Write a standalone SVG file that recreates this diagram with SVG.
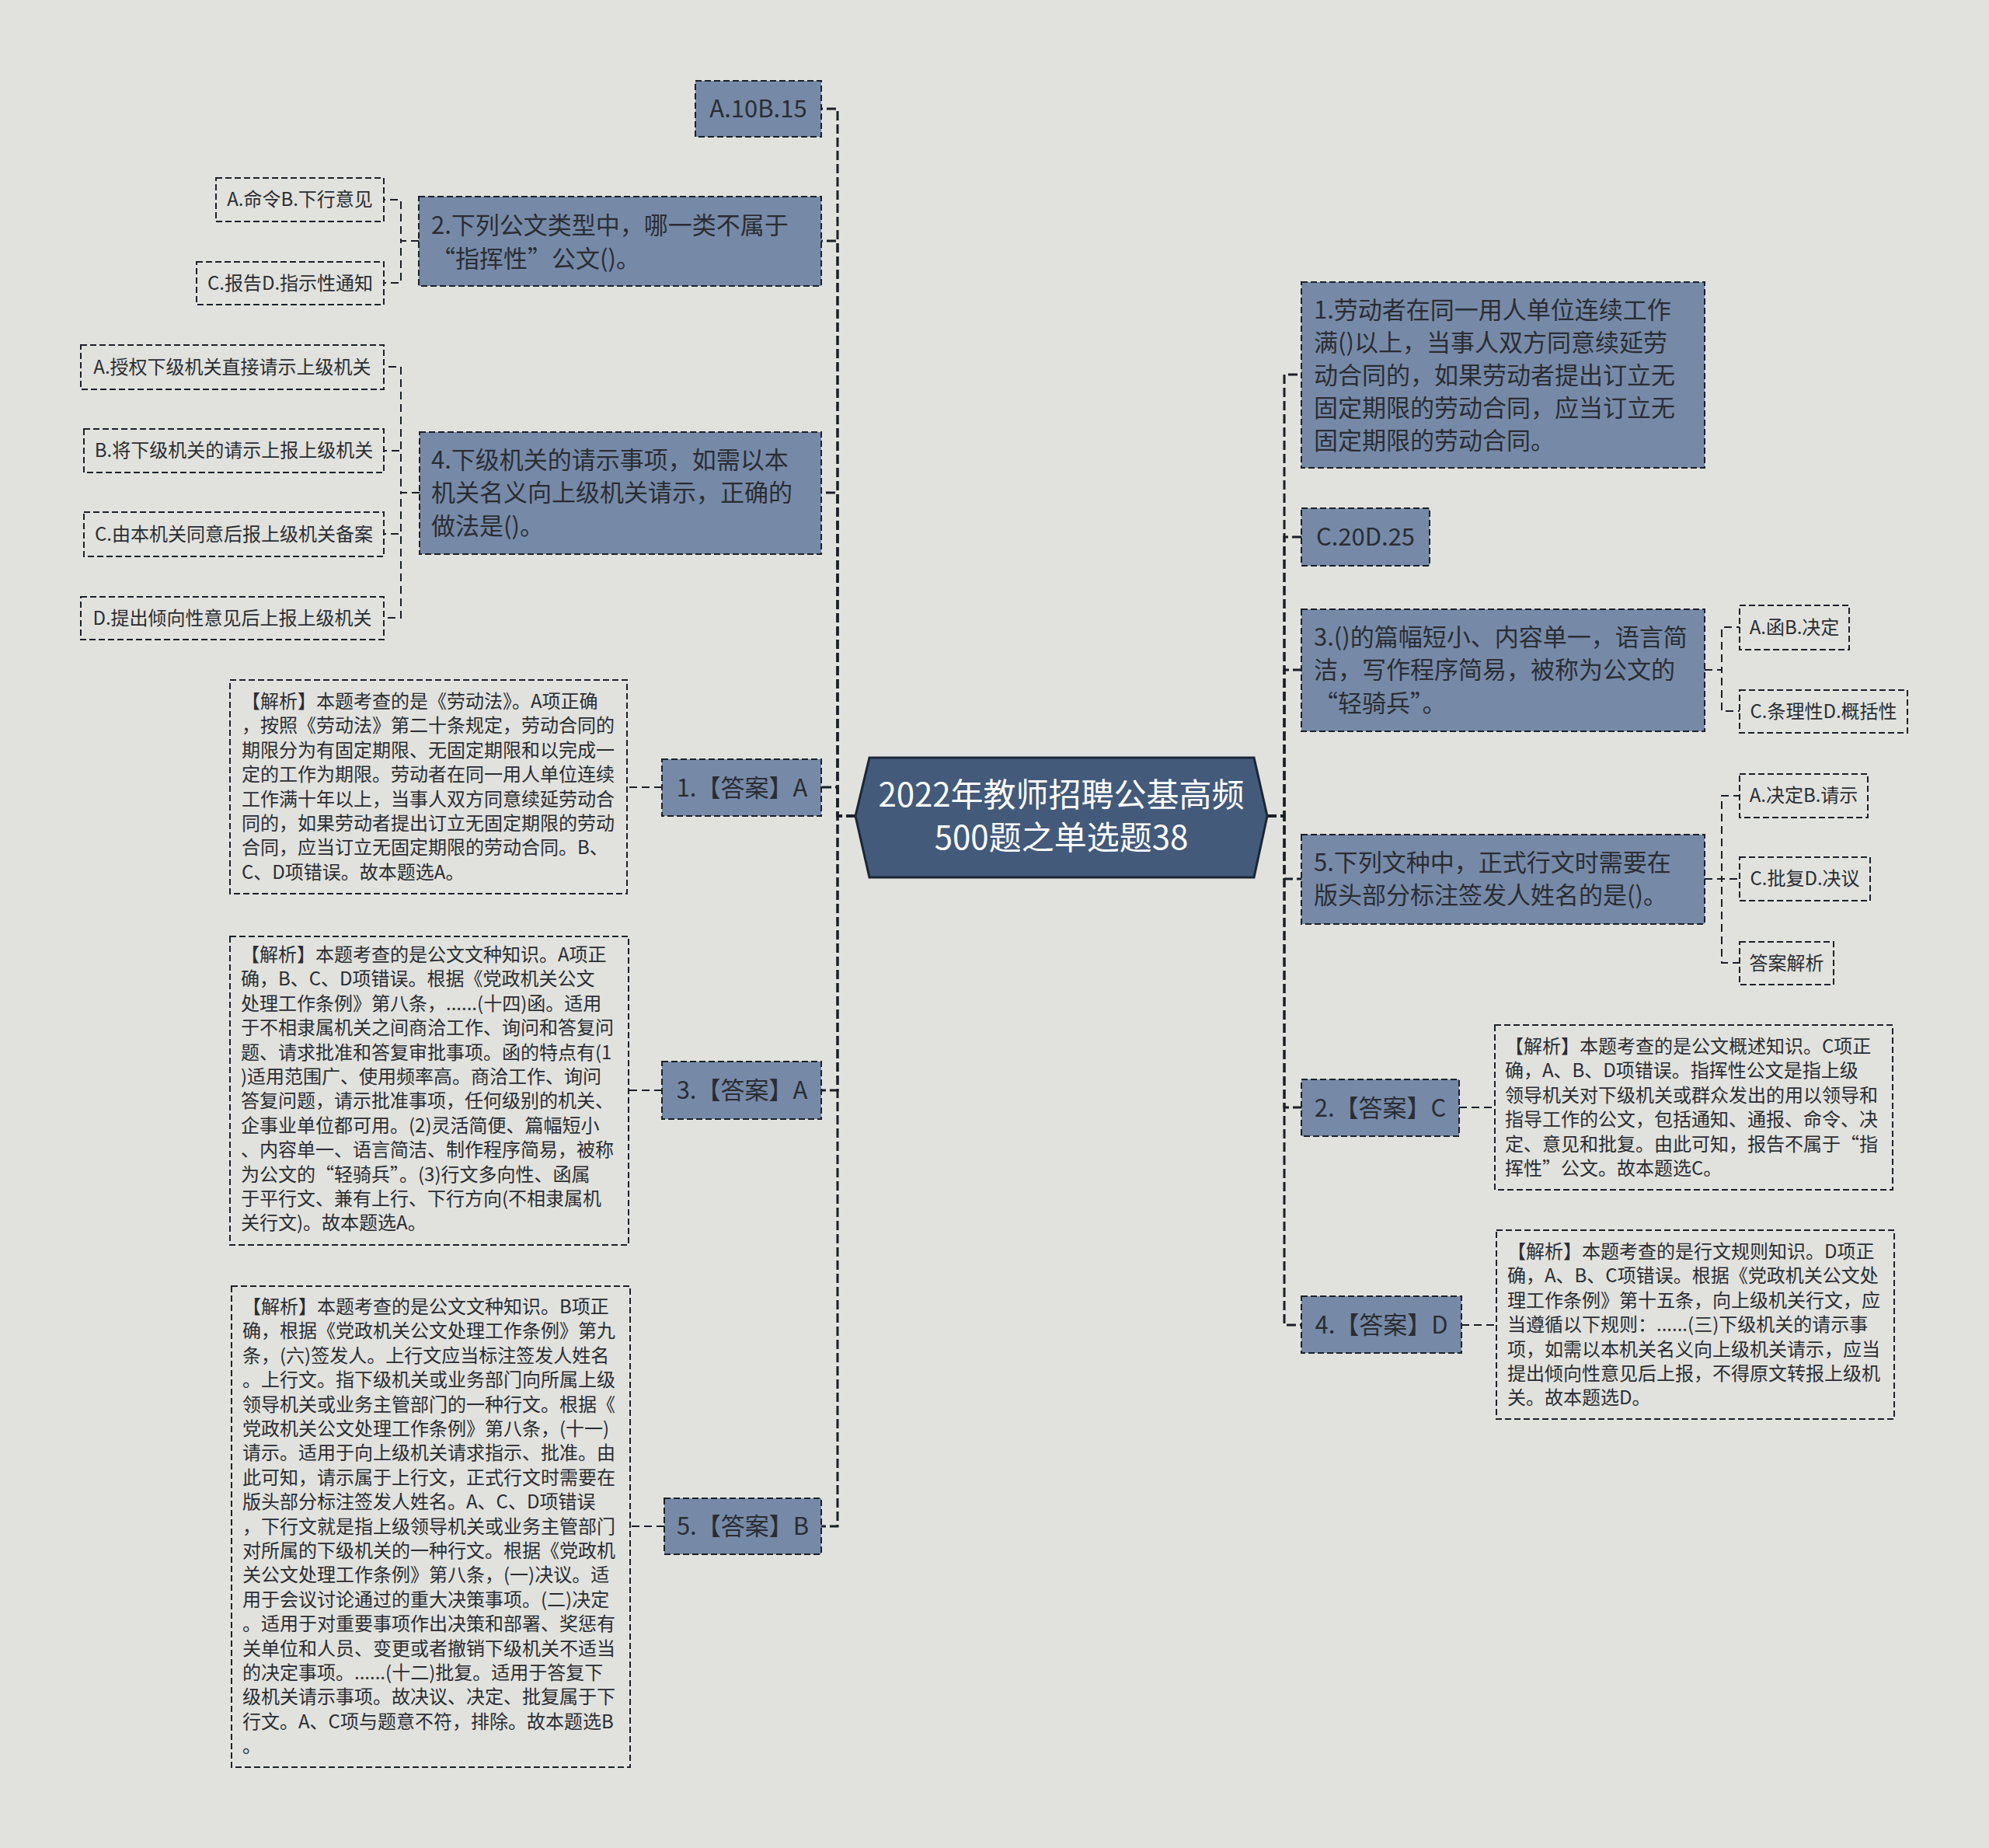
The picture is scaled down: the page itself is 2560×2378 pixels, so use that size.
<svg xmlns="http://www.w3.org/2000/svg" width="2560" height="2378" viewBox="0 0 2560 2378">
<style>
text{font-family:"Noto Sans CJK SC","Noto Sans",sans-serif;fill:#2a2d33}
.bn{fill:#768aa8;stroke:#1c2129;stroke-width:2;stroke-dasharray:8 4}
.op{fill:none;stroke:#1c2129;stroke-width:2;stroke-dasharray:8 4}
.t31{font-size:31px}
.t24{font-size:24px}
.c{text-anchor:middle}
.main{fill:none;stroke:#1a1f27;stroke-width:3;stroke-dasharray:12 5}
.sub{fill:none;stroke:#1a1f27;stroke-width:2;stroke-dasharray:10 6}
</style>
<rect width="2560" height="2378" fill="#e1e2dd"/>
<g id="connectors">
<path class="main" d="M1101 1050H1078V140H1057"/>
<path class="main" d="M1101 1050H1078V310H1057"/>
<path class="main" d="M1101 1050H1078V634H1057"/>
<path class="main" d="M1101 1050H1078V1013H1057"/>
<path class="main" d="M1101 1050H1078V1403H1057"/>
<path class="main" d="M1101 1050H1078V1964H1057"/>
<path class="main" d="M1631 1050H1653V482H1675"/>
<path class="main" d="M1631 1050H1653V691H1675"/>
<path class="main" d="M1631 1050H1653V862H1675"/>
<path class="main" d="M1631 1050H1653V1131H1675"/>
<path class="main" d="M1631 1050H1653V1425H1675"/>
<path class="main" d="M1631 1050H1653V1705H1675"/>
<path class="sub" d="M539 310H516V257H494"/>
<path class="sub" d="M539 310H516V364H494"/>
<path class="sub" d="M540 634H516V472H494"/>
<path class="sub" d="M540 634H516V580H494"/>
<path class="sub" d="M540 634H516V687H494"/>
<path class="sub" d="M540 634H516V795H494"/>
<path class="sub" d="M852 1013H807"/>
<path class="sub" d="M852 1403H809"/>
<path class="sub" d="M855 1964H811"/>
<path class="sub" d="M2194 862H2216V807H2239"/>
<path class="sub" d="M2194 862H2216V915H2239"/>
<path class="sub" d="M2194 1131H2216V1024H2239"/>
<path class="sub" d="M2194 1131H2216V1131H2239"/>
<path class="sub" d="M2194 1131H2216V1239H2239"/>
<path class="sub" d="M1878 1425H1924"/>
<path class="sub" d="M1881 1705H1926"/>
</g>
<g id="root">
<polygon points="1101,1050 1119,975 1614,975 1631,1050 1614,1129 1119,1129" fill="#435a7b" stroke="#1b2636" stroke-width="3"/>
<text class="c" x="1366" y="1038" font-size="42" style="fill:#ffffff">2022年教师招聘公基高频</text>
<text class="c" x="1366" y="1093" font-size="42" style="fill:#ffffff">500题之单选题38</text>
</g>
<g id="n-a10">
<rect class="bn" x="895" y="104" width="162" height="72"/>
<text class="t31 c" x="976" y="151">A.10B.15</text>
</g>
<g id="n-q2">
<rect class="bn" x="539" y="253" width="518" height="115"/>
<text class="t31"><tspan x="555" y="301">2.下列公文类型中，哪一类不属于</tspan><tspan x="555" y="344">“指挥性”公文()。</tspan></text>
</g>
<g id="o-q2a">
<rect class="op" x="278" y="229" width="216" height="56"/>
<text class="t24 c" x="386" y="265">A.命令B.下行意见</text>
</g>
<g id="o-q2c">
<rect class="op" x="253" y="337" width="241" height="55"/>
<text class="t24 c" x="373.5" y="373">C.报告D.指示性通知</text>
</g>
<g id="n-q4">
<rect class="bn" x="540" y="556" width="517" height="157"/>
<text class="t31"><tspan x="555" y="603">4.下级机关的请示事项，如需以本</tspan><tspan x="555" y="645">机关名义向上级机关请示，正确的</tspan><tspan x="555" y="688">做法是()。</tspan></text>
</g>
<g id="o-q4a">
<rect class="op" x="104" y="444" width="390" height="57"/>
<text class="t24 c" x="299" y="481">A.授权下级机关直接请示上级机关</text>
</g>
<g id="o-q4b">
<rect class="op" x="108" y="552" width="386" height="56"/>
<text class="t24 c" x="301" y="588">B.将下级机关的请示上报上级机关</text>
</g>
<g id="o-q4c">
<rect class="op" x="108" y="659" width="386" height="57"/>
<text class="t24 c" x="301" y="696">C.由本机关同意后报上级机关备案</text>
</g>
<g id="o-q4d">
<rect class="op" x="104" y="768" width="390" height="55"/>
<text class="t24 c" x="299" y="804">D.提出倾向性意见后上报上级机关</text>
</g>
<g id="n-a1">
<rect class="bn" x="852" y="977" width="205" height="73"/>
<text class="t31 c" x="955" y="1025">1.【答案】A</text>
</g>
<g id="e-a1">
<rect class="op" x="296" y="875" width="511" height="275"/>
<text class="t24"><tspan x="311" y="911">【解析】本题考查的是《劳动法》。A项正确</tspan><tspan x="311" y="942">，按照《劳动法》第二十条规定，劳动合同的</tspan><tspan x="311" y="974">期限分为有固定期限、无固定期限和以完成一</tspan><tspan x="311" y="1005">定的工作为期限。劳动者在同一用人单位连续</tspan><tspan x="311" y="1037">工作满十年以上，当事人双方同意续延劳动合</tspan><tspan x="311" y="1068">同的，如果劳动者提出订立无固定期限的劳动</tspan><tspan x="311" y="1099">合同，应当订立无固定期限的劳动合同。B、</tspan><tspan x="311" y="1131">C、D项错误。故本题选A。</tspan></text>
</g>
<g id="n-a3">
<rect class="bn" x="852" y="1366" width="205" height="74"/>
<text class="t31 c" x="955" y="1414">3.【答案】A</text>
</g>
<g id="e-a3">
<rect class="op" x="296" y="1205" width="513" height="397"/>
<text class="t24"><tspan x="310" y="1237">【解析】本题考查的是公文文种知识。A项正</tspan><tspan x="310" y="1268">确，B、C、D项错误。根据《党政机关公文</tspan><tspan x="310" y="1300">处理工作条例》第八条，......(十四)函。适用</tspan><tspan x="310" y="1331">于不相隶属机关之间商洽工作、询问和答复问</tspan><tspan x="310" y="1363">题、请求批准和答复审批事项。函的特点有(1</tspan><tspan x="310" y="1394">)适用范围广、使用频率高。商洽工作、询问</tspan><tspan x="310" y="1425">答复问题，请示批准事项，任何级别的机关、</tspan><tspan x="310" y="1457">企事业单位都可用。(2)灵活简便、篇幅短小</tspan><tspan x="310" y="1488">、内容单一、语言简洁、制作程序简易，被称</tspan><tspan x="310" y="1520">为公文的“轻骑兵”。(3)行文多向性、函属</tspan><tspan x="310" y="1551">于平行文、兼有上行、下行方向(不相隶属机</tspan><tspan x="310" y="1582">关行文)。故本题选A。</tspan></text>
</g>
<g id="n-a5">
<rect class="bn" x="855" y="1928" width="202" height="72"/>
<text class="t31 c" x="956" y="1975">5.【答案】B</text>
</g>
<g id="e-a5">
<rect class="op" x="298" y="1655" width="513" height="619"/>
<text class="t24"><tspan x="312" y="1690">【解析】本题考查的是公文文种知识。B项正</tspan><tspan x="312" y="1721">确，根据《党政机关公文处理工作条例》第九</tspan><tspan x="312" y="1753">条，(六)签发人。上行文应当标注签发人姓名</tspan><tspan x="312" y="1784">。上行文。指下级机关或业务部门向所属上级</tspan><tspan x="312" y="1816">领导机关或业务主管部门的一种行文。根据《</tspan><tspan x="312" y="1847">党政机关公文处理工作条例》第八条，(十一)</tspan><tspan x="312" y="1878">请示。适用于向上级机关请求指示、批准。由</tspan><tspan x="312" y="1910">此可知，请示属于上行文，正式行文时需要在</tspan><tspan x="312" y="1941">版头部分标注签发人姓名。A、C、D项错误</tspan><tspan x="312" y="1973">，下行文就是指上级领导机关或业务主管部门</tspan><tspan x="312" y="2004">对所属的下级机关的一种行文。根据《党政机</tspan><tspan x="312" y="2035">关公文处理工作条例》第八条，(一)决议。适</tspan><tspan x="312" y="2067">用于会议讨论通过的重大决策事项。(二)决定</tspan><tspan x="312" y="2098">。适用于对重要事项作出决策和部署、奖惩有</tspan><tspan x="312" y="2130">关单位和人员、变更或者撤销下级机关不适当</tspan><tspan x="312" y="2161">的决定事项。......(十二)批复。适用于答复下</tspan><tspan x="312" y="2192">级机关请示事项。故决议、决定、批复属于下</tspan><tspan x="312" y="2224">行文。A、C项与题意不符，排除。故本题选B</tspan><tspan x="312" y="2255">。</tspan></text>
</g>
<g id="n-q1">
<rect class="bn" x="1675" y="363" width="519" height="239"/>
<text class="t31"><tspan x="1691" y="410">1.劳动者在同一用人单位连续工作</tspan><tspan x="1691" y="452">满()以上，当事人双方同意续延劳</tspan><tspan x="1691" y="494">动合同的，如果劳动者提出订立无</tspan><tspan x="1691" y="536">固定期限的劳动合同，应当订立无</tspan><tspan x="1691" y="578">固定期限的劳动合同。</tspan></text>
</g>
<g id="n-c20">
<rect class="bn" x="1675" y="654" width="165" height="74"/>
<text class="t31 c" x="1757.5" y="702">C.20D.25</text>
</g>
<g id="n-q3">
<rect class="bn" x="1675" y="784" width="519" height="157"/>
<text class="t31"><tspan x="1691" y="831">3.()的篇幅短小、内容单一，语言简</tspan><tspan x="1691" y="873">洁，写作程序简易，被称为公文的</tspan><tspan x="1691" y="916">“轻骑兵”。</tspan></text>
</g>
<g id="o-q3a">
<rect class="op" x="2239" y="779" width="141" height="57"/>
<text class="t24 c" x="2309.5" y="816">A.函B.决定</text>
</g>
<g id="o-q3c">
<rect class="op" x="2239" y="888" width="216" height="55"/>
<text class="t24 c" x="2347" y="924">C.条理性D.概括性</text>
</g>
<g id="n-q5">
<rect class="bn" x="1675" y="1074" width="519" height="115"/>
<text class="t31"><tspan x="1691" y="1121">5.下列文种中，正式行文时需要在</tspan><tspan x="1691" y="1163">版头部分标注签发人姓名的是()。</tspan></text>
</g>
<g id="o-q5a">
<rect class="op" x="2239" y="996" width="165" height="56"/>
<text class="t24 c" x="2321.5" y="1032">A.决定B.请示</text>
</g>
<g id="o-q5c">
<rect class="op" x="2239" y="1103" width="168" height="56"/>
<text class="t24 c" x="2323" y="1139">C.批复D.决议</text>
</g>
<g id="o-q5e">
<rect class="op" x="2239" y="1212" width="121" height="55"/>
<text class="t24 c" x="2299.5" y="1248">答案解析</text>
</g>
<g id="n-a2">
<rect class="bn" x="1675" y="1389" width="203" height="73"/>
<text class="t31 c" x="1776.5" y="1437">2.【答案】C</text>
</g>
<g id="e-a2">
<rect class="op" x="1924" y="1319" width="512" height="212"/>
<text class="t24"><tspan x="1937" y="1355">【解析】本题考查的是公文概述知识。C项正</tspan><tspan x="1937" y="1386">确，A、B、D项错误。指挥性公文是指上级</tspan><tspan x="1937" y="1418">领导机关对下级机关或群众发出的用以领导和</tspan><tspan x="1937" y="1449">指导工作的公文，包括通知、通报、命令、决</tspan><tspan x="1937" y="1481">定、意见和批复。由此可知，报告不属于“指</tspan><tspan x="1937" y="1512">挥性”公文。故本题选C。</tspan></text>
</g>
<g id="n-a4">
<rect class="bn" x="1675" y="1668" width="206" height="73"/>
<text class="t31 c" x="1778" y="1716">4.【答案】D</text>
</g>
<g id="e-a4">
<rect class="op" x="1926" y="1583" width="512" height="243"/>
<text class="t24"><tspan x="1940" y="1619">【解析】本题考查的是行文规则知识。D项正</tspan><tspan x="1940" y="1650">确，A、B、C项错误。根据《党政机关公文处</tspan><tspan x="1940" y="1682">理工作条例》第十五条，向上级机关行文，应</tspan><tspan x="1940" y="1713">当遵循以下规则：......(三)下级机关的请示事</tspan><tspan x="1940" y="1745">项，如需以本机关名义向上级机关请示，应当</tspan><tspan x="1940" y="1776">提出倾向性意见后上报，不得原文转报上级机</tspan><tspan x="1940" y="1807">关。故本题选D。</tspan></text>
</g>
</svg>
